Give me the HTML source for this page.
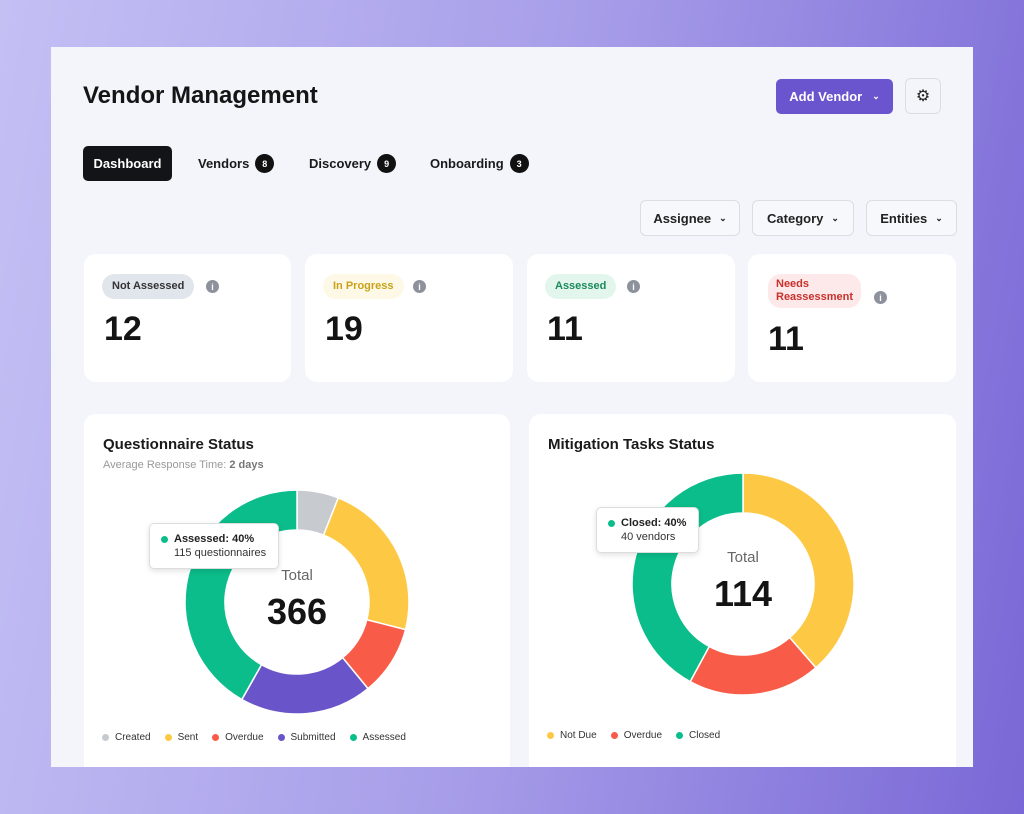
<!DOCTYPE html>
<html><head><meta charset="utf-8">
<style>
*{box-sizing:border-box;margin:0;padding:0}
body{width:1024px;height:814px;overflow:hidden;font-family:"Liberation Sans",sans-serif;background:linear-gradient(100deg,#c4c0f4 0%,#a79ee9 50%,#7a68d6 100%);position:relative}
.abs{position:absolute}
#panel{left:51px;top:47px;width:922px;height:720px;background:#f4f5fa;overflow:hidden}
.card{background:#fff;border-radius:12px}
.tab{font-size:13px;font-weight:bold;color:#1a1a1a;display:flex;align-items:center;gap:6px}
.badge{width:19px;height:19px;border-radius:50%;background:#111;color:#fff;font-size:9px;display:inline-flex;align-items:center;justify-content:center}
.filter{height:36px;border:1px solid #dcdde3;border-radius:6px;background:#f7f8fb;font-size:13px;font-weight:bold;color:#222;display:flex;align-items:center;justify-content:center;gap:8px}
.pill{border-radius:13px;font-size:11px;font-weight:bold;padding:6px 10px;line-height:13px}
.info{width:13px;height:13px;border-radius:50%;background:#8c919c;color:#fff;font-size:9px;font-weight:bold;display:flex;align-items:center;justify-content:center}
.num{font-size:34px;font-weight:bold;color:#141414}
.leg{font-size:10px;color:#333;display:flex;align-items:center;gap:14px}
.leg span{display:flex;align-items:center;gap:6px}
.dot{width:7px;height:7px;border-radius:50%;display:inline-block}
.tip{background:#fff;border:1px solid #ddd;border-radius:5px;box-shadow:0 2px 6px rgba(0,0,0,.12);font-size:11px;color:#333;padding:8px 12px 8px 24px;line-height:14px}
</style></head><body>
<div id="panel" class="abs">
 <div class="abs" style="left:32px;top:35px;font-size:24px;font-weight:bold;color:#151515">Vendor Management</div>
 <div class="abs" style="left:725px;top:32px;width:117px;height:35px;background:#6a55cf;border-radius:5px;color:#fff;font-size:13px;font-weight:bold;display:flex;align-items:center;justify-content:center;gap:10px">Add Vendor <span style="font-size:9px">&#8964;</span></div>
 <div class="abs" style="left:854px;top:31px;width:36px;height:36px;border:1px solid #dcdde3;border-radius:6px;display:flex;align-items:center;justify-content:center;font-size:16px;color:#222">⚙</div>
 <div class="abs tab" style="left:32px;top:99px;width:89px;height:35px;background:#121417;color:#fff;border-radius:5px;justify-content:center">Dashboard</div>
 <div class="abs tab" style="left:147px;top:107px">Vendors <span class="badge">8</span></div>
 <div class="abs tab" style="left:258px;top:107px">Discovery <span class="badge">9</span></div>
 <div class="abs tab" style="left:379px;top:107px">Onboarding <span class="badge">3</span></div>
 <div class="abs filter" style="left:589px;top:153px;width:100px">Assignee <span style="font-size:9px">&#8964;</span></div>
 <div class="abs filter" style="left:701px;top:153px;width:102px">Category <span style="font-size:9px">&#8964;</span></div>
 <div class="abs filter" style="left:815px;top:153px;width:91px">Entities <span style="font-size:9px">&#8964;</span></div>

 <div class="abs card" style="left:33px;top:207px;width:207px;height:128px">
  <div class="abs pill" style="left:18px;top:20px;background:#e1e5ec;color:#333">Not Assessed</div><div class="abs info" style="left:122px;top:26px">i</div>
  <div class="abs num" style="left:20px;top:56px">12</div></div>
 <div class="abs card" style="left:254px;top:207px;width:208px;height:128px">
  <div class="abs pill" style="left:18px;top:20px;background:#fdf9e6;color:#c9a21a">In Progress</div><div class="abs info" style="left:108px;top:26px">i</div>
  <div class="abs num" style="left:20px;top:56px">19</div></div>
 <div class="abs card" style="left:476px;top:207px;width:208px;height:128px">
  <div class="abs pill" style="left:18px;top:20px;background:#e3f6ee;color:#1a8a5a">Assessed</div><div class="abs info" style="left:100px;top:26px">i</div>
  <div class="abs num" style="left:20px;top:56px">11</div></div>
 <div class="abs card" style="left:697px;top:207px;width:208px;height:128px">
  <div class="abs pill" style="left:20px;top:20px;background:#fde9e9;color:#c8302c;padding:4px 8px">Needs<br>Reassessment</div><div class="abs info" style="left:126px;top:37px">i</div>
  <div class="abs num" style="left:20px;top:66px">11</div></div>

 <div class="abs card" style="left:33px;top:367px;width:426px;height:380px">
  <div class="abs" style="left:19px;top:22px;font-size:15px;font-weight:bold;color:#1a1a1a">Questionnaire Status</div>
  <div class="abs" style="left:19px;top:45px;font-size:11px;color:#999">Average Response Time: <b style="color:#777">2 days</b></div>
  <svg class="abs" id="d1" style="left:0;top:0" width="426" height="380"></svg>
  <div class="abs leg" style="left:18px;top:318px">
   <span><i class="dot" style="background:#c7cbcf"></i>Created</span><span><i class="dot" style="background:#fdc844"></i>Sent</span><span><i class="dot" style="background:#f85c48"></i>Overdue</span><span><i class="dot" style="background:#6955c9"></i>Submitted</span><span><i class="dot" style="background:#0bbd8a"></i>Assessed</span></div>
  <div class="abs tip" style="left:65px;top:109px"><i class="dot abs" style="background:#0bbd8a;left:11px;top:12px"></i><b style="color:#222">Assessed: 40%</b><br>115 questionnaires</div>
 </div>
 <div class="abs card" style="left:478px;top:367px;width:427px;height:380px">
  <div class="abs" style="left:19px;top:22px;font-size:15px;font-weight:bold;color:#1a1a1a">Mitigation Tasks Status</div>
  <svg class="abs" id="d2" style="left:0;top:0" width="427" height="380"></svg>
  <div class="abs leg" style="left:18px;top:316px">
   <span><i class="dot" style="background:#fdc844"></i>Not Due</span><span><i class="dot" style="background:#f85c48"></i>Overdue</span><span><i class="dot" style="background:#0bbd8a"></i>Closed</span></div>
  <div class="abs tip" style="left:67px;top:93px"><i class="dot abs" style="background:#0bbd8a;left:11px;top:12px"></i><b style="color:#222">Closed: 40%</b><br>40 vendors</div>
 </div>
</div>
<script>
const qCategories=["Created","Sent","Overdue","Submitted","Assessed"];
const qValues=[22,84,37,70,153];
const qColors=["#c7cbcf","#fdc844","#f85c48","#6955c9","#0bbd8a"];
const mCategories=["Not Due","Overdue","Closed"];
const mValues=[44,22,48];
const mColors=["#fdc844","#f85c48","#0bbd8a"];
const NS="http://www.w3.org/2000/svg";
function donut(svg,cats,vals,cols,cx,cy,R,r,total){
 const sum=vals.reduce((a,b)=>a+b,0);let a0=0;
 const pt=(a,rad)=>[cx+rad*Math.sin(a),cy-rad*Math.cos(a)];
 vals.forEach((v,i)=>{
  const a1=a0+v/sum*2*Math.PI;const lg=(a1-a0)>Math.PI?1:0;
  const p1=pt(a0,R),p2=pt(a1,R),p3=pt(a1,r),p4=pt(a0,r);
  const p=document.createElementNS(NS,"path");
  p.setAttribute("d",`M${p1}A${R},${R} 0 ${lg} 1 ${p2}L${p3}A${r},${r} 0 ${lg} 0 ${p4}Z`);
  p.setAttribute("fill",cols[i]);p.setAttribute("stroke","#fff");p.setAttribute("stroke-width","1.5");
  
  
  svg.appendChild(p);a0=a1;});
 const t1=document.createElementNS(NS,"text");t1.setAttribute("x",cx);t1.setAttribute("y",cy-22);t1.setAttribute("text-anchor","middle");t1.setAttribute("font-size","15");t1.setAttribute("fill","#666");t1.setAttribute("font-family","Liberation Sans");t1.textContent="Total";
 
 
 svg.appendChild(t1);
 const t2=document.createElementNS(NS,"text");t2.setAttribute("x",cx);t2.setAttribute("y",cy+22);t2.setAttribute("text-anchor","middle");t2.setAttribute("font-size","36");t2.setAttribute("font-weight","bold");t2.setAttribute("fill","#141414");t2.setAttribute("font-family","Liberation Sans");t2.textContent=total;
 
 
 svg.appendChild(t2);
}
donut(document.getElementById("d1"),qCategories,qValues,qColors,213,188,112,72,qValues.reduce((a,b)=>a+b,0));
donut(document.getElementById("d2"),mCategories,mValues,mColors,214,170,111,71,mValues.reduce((a,b)=>a+b,0));
</script>
</body></html>
